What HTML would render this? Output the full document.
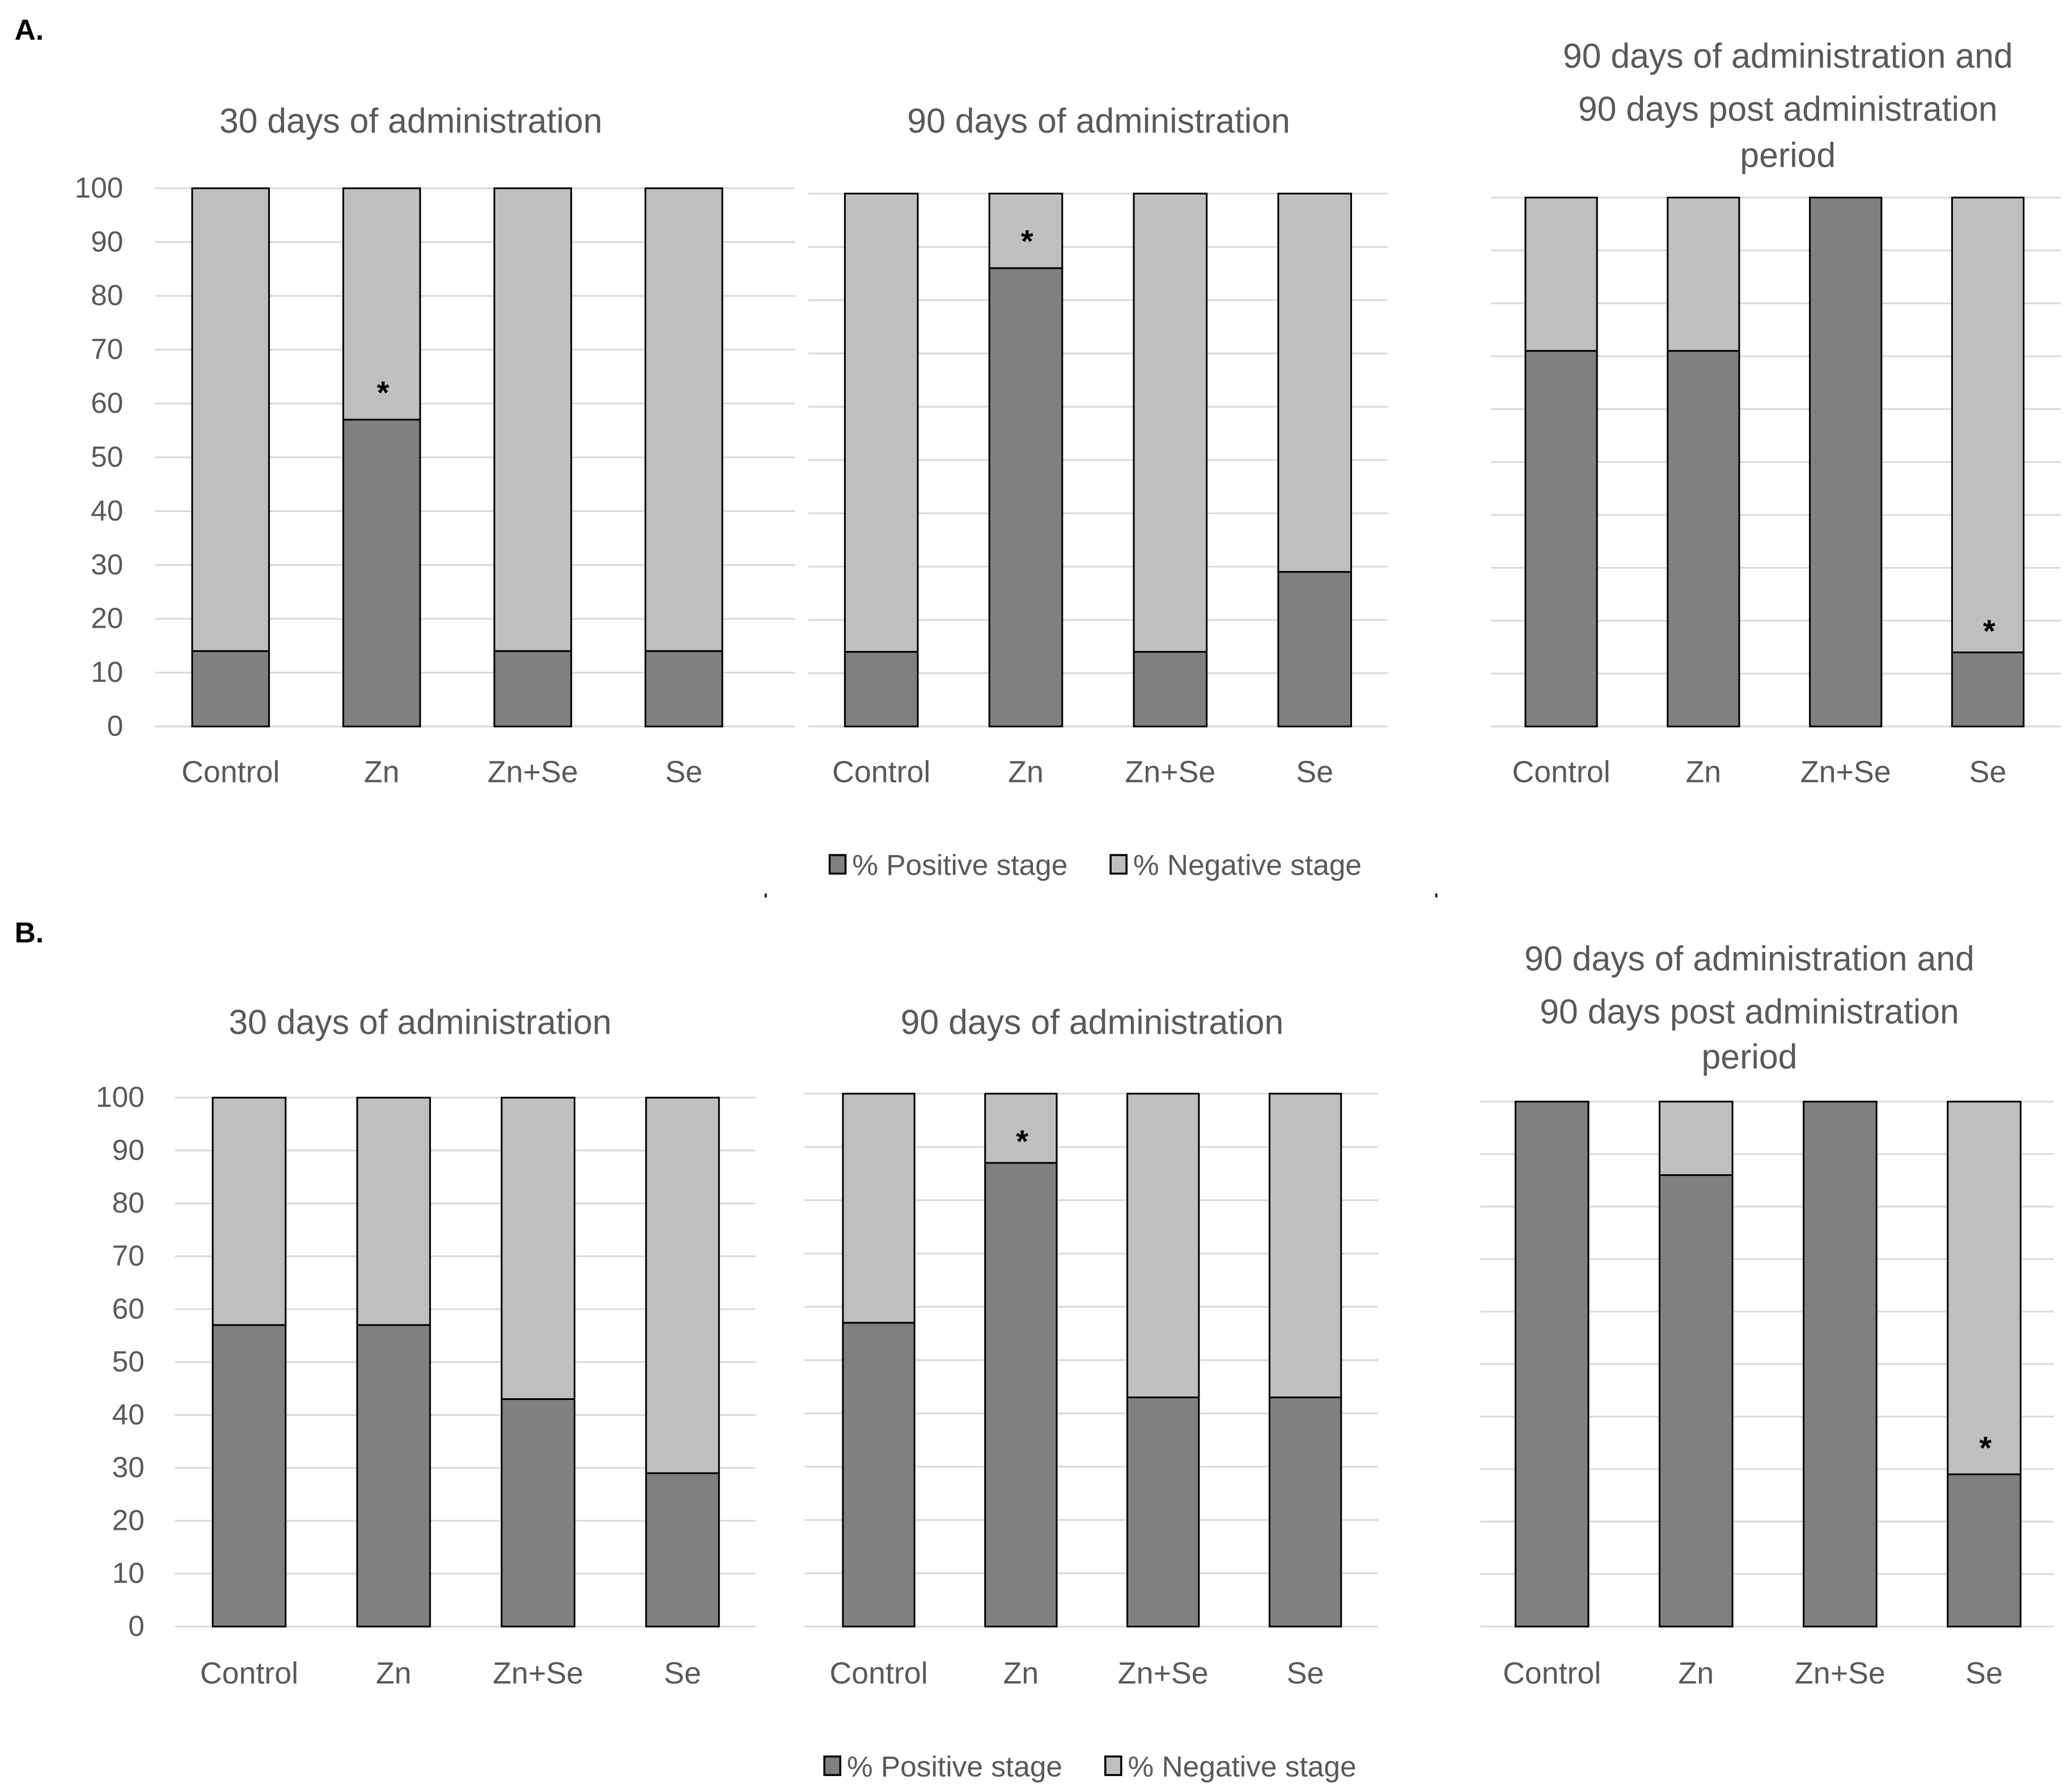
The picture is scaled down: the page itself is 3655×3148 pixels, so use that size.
<!DOCTYPE html>
<html><head><meta charset="utf-8"><style>
html,body{margin:0;padding:0;background:#fff}
svg{display:block}
text{font-family:"Liberation Sans",sans-serif}
</style></head><body>
<svg id="fig" width="3655" height="3148" viewBox="0 0 1563.4 1346.5" xmlns="http://www.w3.org/2000/svg"></svg>
<script>
const categories = ["Control","Zn","Zn+Se","Se"];
const yTicks = [0,10,20,30,40,50,60,70,80,90,100];
const posA1 = [14,57,14,14];
const posA2 = [14,86,14,29];
const posA3 = [71,71,100,14];
const posB1 = [57,57,43,29];
const posB2 = [57,87,43,43];
const posB3 = [100,86,100,29];
const starA1 = [null,63,null,null];
const starA2 = [null,92,null,null];
const starA3 = [null,null,null,19];
const starB1 = [null,null,null,null];
const starB2 = [null,92,null,null];
const starB3 = [null,null,null,35];
const legendLabels = ["% Positive stage","% Negative stage"];

const svg = document.getElementById('fig');
const NS = 'http://www.w3.org/2000/svg';
function mk(tag, attrs, parent){const e=document.createElementNS(NS,tag);for(const k in attrs)e.setAttribute(k,attrs[k]);(parent||svg).appendChild(e);return e;}

const panels = [
 {id:'a1',data:posA1,star:starA1,gx0:117,gx1:600,top:142,bot:548,cx0:174,step:114,bw:58,ticks:true,tickX:93,title:["30 days of administration"],tx:310,ty:[100],labY:590},
 {id:'a2',data:posA2,star:starA2,gx0:610,gx1:1047,top:146,bot:548,cx0:665,step:109,bw:55,ticks:false,title:["90 days of administration"],tx:829,ty:[100],labY:590},
 {id:'a3',data:posA3,star:starA3,gx0:1125,gx1:1555,top:149,bot:548,cx0:1178,step:107.3,bw:54,ticks:false,title:["90 days of administration and","90 days post administration","period"],tx:1349,ty:[51,91,126],labY:590},
 {id:'b1',data:posB1,star:starB1,gx0:132,gx1:570,top:828,bot:1227,cx0:188,step:109,bw:55,ticks:true,tickX:109,title:["30 days of administration"],tx:317,ty:[780],labY:1270},
 {id:'b2',data:posB2,star:starB2,gx0:607,gx1:1040,top:825,bot:1227,cx0:663,step:107.3,bw:54,ticks:false,title:["90 days of administration"],tx:824,ty:[780],labY:1270},
 {id:'b3',data:posB3,star:starB3,gx0:1117,gx1:1550,top:831,bot:1227,cx0:1171,step:108.7,bw:55,ticks:false,title:["90 days of administration and","90 days post administration","period"],tx:1320,ty:[732,772,806],labY:1270}
];

panels.forEach(p=>{
  const g = mk('g',{});
  
  
  const y = v => p.bot - (p.bot-p.top)*v/100;
  yTicks.forEach(t=>{
    const l = mk('line',{x1:p.gx0,x2:p.gx1,y1:y(t),y2:y(t),stroke:'#d9d9d9','stroke-width':1.3},g);
    
    
    if(p.ticks){
      const tx = mk('text',{x:p.tickX,y:y(t)+7,'text-anchor':'end','font-size':22,fill:'#595959'},g);
      
      
      tx.textContent=t;
    }
  });
  p.title.forEach((s,i)=>{
    const t = mk('text',{x:p.tx,y:p.ty[i],'text-anchor':'middle','font-size':26,fill:'#595959'},g);
    
    
    t.textContent=s;
  });
  categories.forEach((c,i)=>{
    const cx = p.cx0 + p.step*i;
    const v = p.data[i];
    const x = cx - p.bw/2;
    const neg = mk('rect',{x:x,y:y(100),width:p.bw,height:y(v)-y(100),fill:'#bfbfbf',stroke:'#000','stroke-width':1.3},g);
    
    
    const pos = mk('rect',{x:x,y:y(v),width:p.bw,height:y(0)-y(v),fill:'#808080',stroke:'#000','stroke-width':1.3},g);
    
    
    if(p.star[i]!==null){
      const s = mk('text',{x:cx+1,y:y(p.star[i])+12,'text-anchor':'middle','font-size':24,'font-weight':'bold',fill:'#000'},g);
      
      
      s.textContent='*';
    }
    const lb = mk('text',{x:cx,y:p.labY,'text-anchor':'middle','font-size':23,fill:'#595959'},g);
    
    
    lb.textContent=c;
  });
});

[[626,652,'a'],[622,1332,'b']].forEach(([lx,ly,id])=>{
  const g = mk('g',{});
  
  
  const cols=['#808080','#bfbfbf'];
  legendLabels.forEach((s,i)=>{
    const x0 = lx + i*212;
    const r = mk('rect',{x:x0,y:ly-7,width:12,height:14,fill:cols[i],stroke:'#000','stroke-width':1.5},g);
    
    
    const t = mk('text',{x:x0+17,y:ly+8,'font-size':22,fill:'#595959'},g);
    
    
    t.textContent=s;
  });
});

[['A.',11,30],['B.',11,711]].forEach(([s,x,yy])=>{
  const t = mk('text',{x:x,y:yy,'font-size':22,'font-weight':'bold',fill:'#000'});
  
  
  t.textContent=s;
});
[[577,676],[1083,676]].forEach(([x,yy])=>{
  const d = mk('rect',{x:x,y:yy-2,width:1.5,height:3,fill:'#000'});
  
  
});
</script>
</body></html>
